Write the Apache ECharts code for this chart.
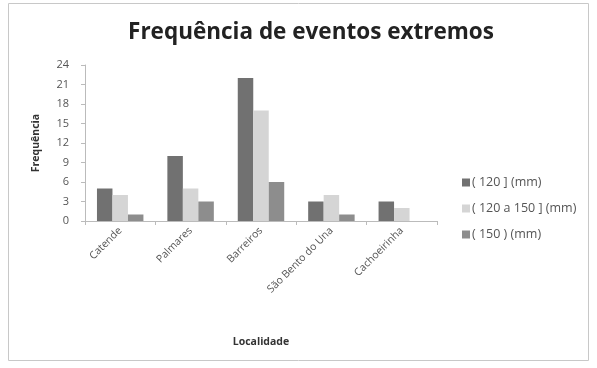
<!DOCTYPE html>
<html>
<head>
<meta charset="utf-8">
<script src="https://cdn.jsdelivr.net/npm/echarts@6/dist/echarts.min.js"></script>
<style>
  html, body { margin: 0; padding: 0; background: #fff; }
  #chart { width: 597px; height: 368px; }
</style>
</head>
<body>
<div id="chart"></div>
<script>
var categories = ['Catende', 'Palmares', 'Barreiros', 'São Bento do Una', 'Cachoeirinha'];
var seriesNames = ['( 120 ] (mm)', '( 120 a 150 ] (mm)', '( 150 ) (mm)'];
var ate120 = [5, 10, 22, 3, 3];
var de120a150 = [4, 5, 17, 4, 2];
var acima150 = [1, 3, 6, 1, 0];
var colors = ['#717171', '#d5d5d5', '#8d8d8d'];

var myChart = echarts.init(document.getElementById('chart'));

var option = {
    animation: false,
    title: {
        text: 'Frequência de eventos extremos',
        left: 306,
        textAlign: 'center',
        top: 16,
        textStyle: {
            fontFamily: 'Open Sans',
            fontSize: 22.5,
            fontWeight: 'bold',
            color: '#222'
        }
    },
    graphic: [{
        type: 'rect',
        shape: { x: 8.5, y: 3.5, width: 580, height: 357 },
        style: { fill: 'none', stroke: '#c8c8c8', lineWidth: 1 },
        silent: true
    }],
    legend: {
        orient: 'vertical',
        left: 457,
        top: 171,
        itemGap: 13,
        itemWidth: 8,
        itemHeight: 8,
        icon: 'rect',
        data: seriesNames,
        textStyle: {
            fontFamily: 'Open Sans',
            fontSize: 12.5,
            color: '#555',
            padding: [0, 0, 0, -3]
        }
    },
    grid: {
        left: 85,
        top: 65,
        width: 352,
        height: 156
    },
    xAxis: {
        type: 'category',
        data: categories,
        name: 'Localidade',
        nameLocation: 'middle',
        nameGap: 116,
        nameTextStyle: {
            fontFamily: 'Open Sans',
            fontSize: 10.5,
            fontWeight: 'bold',
            color: '#333'
        },
        axisLine: { lineStyle: { color: '#bbb' } },
        axisTick: { show: true, length: 4, lineStyle: { color: '#bbb' } },
        axisLabel: {
            rotate: 45,
            fontFamily: 'Open Sans',
            fontSize: 10.5,
            color: '#555',
            margin: 8
        }
    },
    yAxis: {
        type: 'value',
        min: 0,
        max: 24,
        interval: 3,
        name: 'Frequência',
        nameLocation: 'middle',
        nameGap: 43,
        nameRotate: 90,
        nameTextStyle: {
            fontFamily: 'Open Sans',
            fontSize: 10.5,
            fontWeight: 'bold',
            color: '#333'
        },
        axisLine: { show: true, lineStyle: { color: '#bbb' } },
        axisTick: { show: true, length: 4, lineStyle: { color: '#bbb' } },
        splitLine: { show: false },
        axisLabel: {
            fontFamily: 'Open Sans',
            fontSize: 11,
            color: '#555',
            margin: 16
        }
    },
    series: [{
        name: seriesNames[0],
        type: 'bar',
        data: ate120,
        barGap: '0%',
        barCategoryGap: '34%',
        itemStyle: { color: colors[0] }
    }, {
        name: seriesNames[1],
        type: 'bar',
        data: de120a150,
        itemStyle: { color: colors[1] }
    }, {
        name: seriesNames[2],
        type: 'bar',
        data: acima150,
        itemStyle: { color: colors[2] }
    }]
};
myChart.setOption(option);
</script>
</body>
</html>
